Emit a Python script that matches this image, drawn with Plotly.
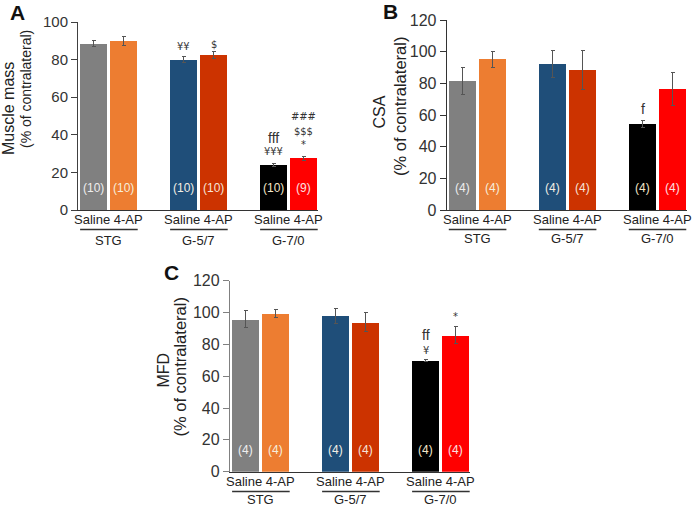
import plotly.graph_objects as go

W, H = 694, 507

groups = ["STG", "G-5/7", "G-7/0"]
treatments = ["Saline", "4-AP"]
bar_colors = ["#808080", "#ED7D31", "#1F4E79", "#CC3300", "#000000", "#FF0000"]
n_colors = ["#EEEEEE", "#F6EEDC", "#F2EEE4", "#F6E4D8", "#F2E6C8", "#FBE0E0"]

mass_mean = [88.5, 90.0, 80.0, 82.5, 24.0, 27.5]
mass_err = [1.5, 2.5, 1.5, 2.0, 1.0, 1.0]
mass_n = ["(10)", "(10)", "(10)", "(10)", "(10)", "(9)"]

csa_mean = [81.5, 95.3, 92.2, 88.4, 54.5, 76.5]
csa_err = [8.5, 5.0, 8.5, 12.5, 2.2, 10.5]
csa_n = ["(4)", "(4)", "(4)", "(4)", "(4)", "(4)"]

mfd_mean = [95.7, 99.5, 98.0, 93.8, 69.8, 85.7]
mfd_err = [5.3, 2.5, 4.7, 6.0, 0.8, 5.3]
mfd_n = ["(4)", "(4)", "(4)", "(4)", "(4)", "(4)"]

# significance marks: (bar index, text, y value)
mass_sig = [(2, "¥¥", 87.2), (3, "&#36;", 88.3), (4, "fff", 38.3), (4, "¥¥¥", 30.9),
            (5, "###", 49.7), (5, "&#36;&#36;&#36;", 41.5), (5, "*", 34.6)]
csa_sig = [(4, "f", 63.8)]
mfd_sig = [(4, "ff", 85.9), (4, "¥", 76.4), (5, "*", 97.2)]

positions = [g * 3 + t for g in range(len(groups)) for t in range(len(treatments))]
group_centers = [g * 3 + 0.5 for g in range(len(groups))]


def px(x):
    return x / W


def py(y):
    return 1 - y / H


FONT = "Liberation Sans, Arial, sans-serif"
SIGFONT = "DejaVu Sans Condensed, DejaVu Sans, sans-serif"

panels = [
    dict(name="A", mean=mass_mean, err=mass_err, n=mass_n, sig=mass_sig, ymax=100,
         xdom=(78, 318), ydom=(210, 22), n_y=11.7, tick_font=15, axis_col="#404040",
         t1="Muscle mass", t1pos=(8.5, 108.5), t1size=16,
         t2="(% of contralateral)", t2pos=(25.5, 89.5), t2size=14,
         lab_y=(219, 229.5, 240), letter=(17, 12)),
    dict(name="B", mean=csa_mean, err=csa_err, n=csa_n, sig=csa_sig, ymax=120,
         xdom=(446.7, 686.7), ydom=(210, 20), n_y=13.7, tick_font=16, axis_col="#333333",
         t1="CSA", t1pos=(379, 112.5), t1size=16,
         t2="(% of contralateral)", t2pos=(400, 107), t2size=16.5,
         lab_y=(219, 229.5, 239), letter=(390, 11)),
    dict(name="C", mean=mfd_mean, err=mfd_err, n=mfd_n, sig=mfd_sig, ymax=120,
         xdom=(230, 470), ydom=(471.7, 280.7), n_y=13.6, tick_font=16, axis_col="#808080",
         t1="MFD", t1pos=(162.5, 370), t1size=16,
         t2="(% of contralateral)", t2pos=(179.5, 367), t2size=16.5,
         lab_y=(481.5, 491.5, 499), letter=(171.5, 272.5)),
]

fig = go.Figure()
annotations = []
shapes = []
layout = {}

for i, p in enumerate(panels):
    k = "" if i == 0 else str(i + 1)
    xa, ya = "x" + k, "y" + k
    fig.add_trace(go.Bar(
        x=positions, y=p["mean"], width=0.9,
        marker=dict(color=bar_colors, line=dict(width=0)),
        error_y=dict(type="data", array=p["err"], visible=True,
                     color="#555555", thickness=1, width=2),
        xaxis=xa, yaxis=ya, showlegend=False, hoverinfo="skip",
    ))
    layout["xaxis" + k] = dict(
        domain=[px(p["xdom"][0]), px(p["xdom"][1])], range=[-0.53, 7.47],
        showticklabels=False, ticks="", showgrid=False, zeroline=False,
        showline=True, linecolor="#333333", linewidth=1, anchor=ya, fixedrange=True,
        automargin=False,
    )
    layout["yaxis" + k] = dict(
        domain=[py(p["ydom"][0]), py(p["ydom"][1])], range=[0, p["ymax"]],
        tickvals=list(range(0, p["ymax"] + 1, 20)), ticks="outside", ticklen=6,
        tickcolor=p["axis_col"], tickwidth=1,
        showline=True, linecolor=p["axis_col"], linewidth=1.3 if i == 2 else 1,
        showgrid=False, zeroline=False, anchor=xa,
        tickfont=dict(family=FONT, size=p["tick_font"], color="#333333"),
        fixedrange=True, automargin=False,
    )
    # n labels inside bars
    for j, pos in enumerate(positions):
        annotations.append(dict(x=pos, y=p["n_y"], xref=xa, yref=ya, text=p["n"][j],
                                showarrow=False, xanchor="center", yanchor="middle",
                                font=dict(family=FONT, size=12, color=n_colors[j])))
    # significance marks
    for (j, txt, yv) in p["sig"]:
        is_f = txt in ("f", "ff", "fff")
        annotations.append(dict(x=positions[j], y=yv, xref=xa, yref=ya, text=txt,
                                showarrow=False, xanchor="center", yanchor="middle",
                                font=dict(family=FONT if is_f else SIGFONT,
                                          size=14 if is_f else 11,
                                          color="#333333")))
    # category labels
    ly1, ly2, ly3 = p["lab_y"]
    for g, gc in enumerate(group_centers):
        annotations.append(dict(x=gc, y=py(ly1), xref=xa, yref="paper",
                                text=" ".join(treatments), showarrow=False,
                                xanchor="center", yanchor="middle",
                                font=dict(family=FONT, size=13, color="#222222")))
        annotations.append(dict(x=gc, y=py(ly3), xref=xa, yref="paper",
                                text=groups[g], showarrow=False,
                                xanchor="center", yanchor="middle",
                                font=dict(family=FONT, size=13, color="#222222")))
        shapes.append(dict(type="line", xref=xa, yref="paper",
                           x0=gc - 0.96, x1=gc + 0.96, y0=py(ly2), y1=py(ly2),
                           line=dict(color="#333333", width=1.5)))
    # axis titles
    annotations.append(dict(x=px(p["t1pos"][0]), y=py(p["t1pos"][1]), xref="paper", yref="paper",
                            text=p["t1"], textangle=-90, showarrow=False,
                            xanchor="center", yanchor="middle",
                            font=dict(family=FONT, size=p["t1size"], color="#222222")))
    annotations.append(dict(x=px(p["t2pos"][0]), y=py(p["t2pos"][1]), xref="paper", yref="paper",
                            text=p["t2"], textangle=-90, showarrow=False,
                            xanchor="center", yanchor="middle",
                            font=dict(family=FONT, size=p["t2size"], color="#222222")))
    # panel letter
    annotations.append(dict(x=px(p["letter"][0]), y=py(p["letter"][1]), xref="paper", yref="paper",
                            text="<b>%s</b>" % p["name"], showarrow=False,
                            xanchor="center", yanchor="middle",
                            font=dict(family=FONT, size=21, color="#111111")))

fig.update_layout(
    width=W, height=H, margin=dict(l=0, r=0, t=0, b=0, autoexpand=False),
    paper_bgcolor="white", plot_bgcolor="white",
    annotations=annotations, shapes=shapes, bargap=0,
    **layout,
)

fig.write_html("out.html", config={"displayModeBar": False},
               post_script="document.body.style.margin='0';document.body.style.overflow='hidden';")
